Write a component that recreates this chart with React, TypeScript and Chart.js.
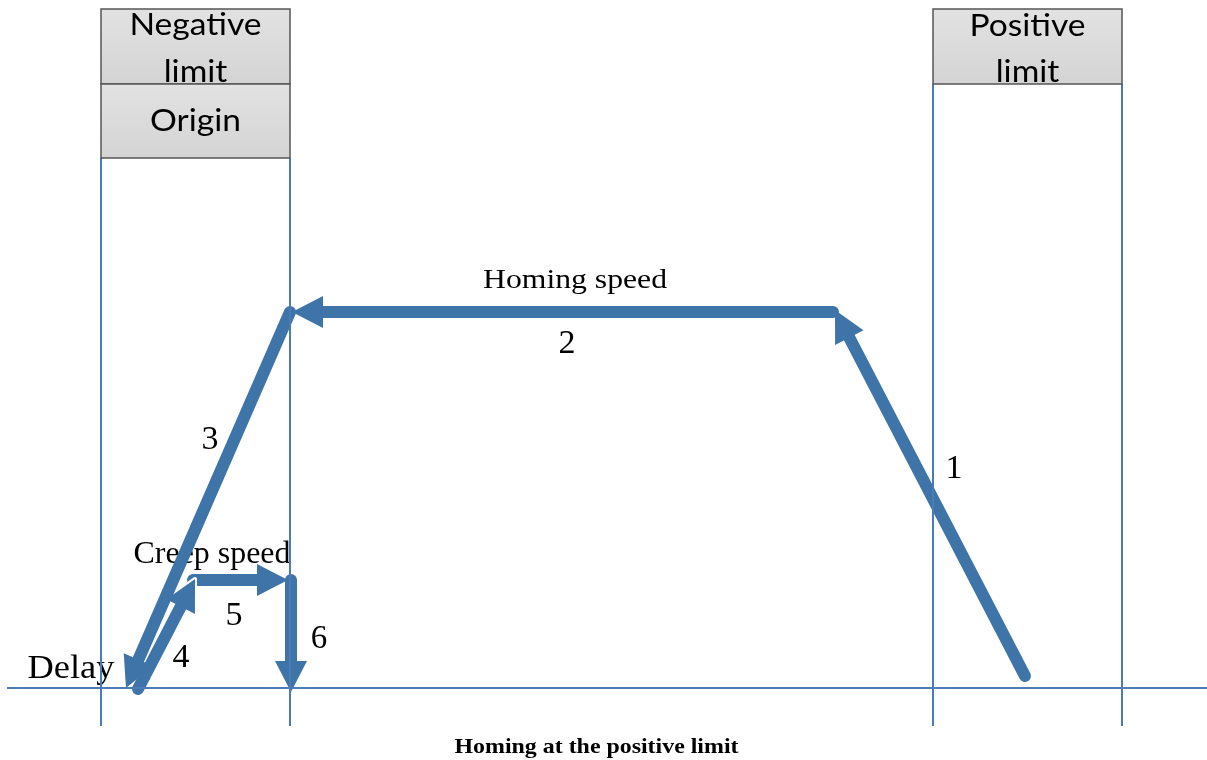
import { useEffect, useRef } from "react";
import { Chart, registerables } from "chart.js";

Chart.register(...registerables);

// ---- Diagram data (x = position, y = speed) ----
const positionRange = [0, 1207];
const speedRange = [-72, 688];

// limit-switch boxes
const switchNames = ["Negative\nlimit", "Origin", "Positive\nlimit"];
const switchLeft = [101, 101, 933];
const switchRight = [290, 290, 1122];
const switchTop = [679, 604, 679];
const switchBottom = [604, 530, 604];
const switchTextBase = [[653, 606], [557], [652, 606]];

// vertical switch edges
const edgeX = [101, 290, 933, 1122];
const edgeTop = [530, 530, 604, 604];
const edgeBottom = [-38, -38, -38, -38];

// position axis (zero speed)
const baselineX = [7, 1207];
const baselineV = [0, 0];

// homing steps (arrows)
const stepNames = ["1", "2", "3", "4", "5", "6"];
const stepStartX = [1025, 833, 290, 138, 193, 291];
const stepStartV = [12, 376, 376, -1, 108, 108];
const stepEndX = [835, 292, 126, 195, 288, 291];
const stepEndV = [378, 376, 0, 109, 108, -4];
const stepOutlined = [false, false, false, true, false, false];

// annotations
const labelTexts = ["Homing speed", "2", "3", "1", "Creep speed", "5", "4", "6", "Delay"];
const labelX = [575, 567, 210, 954, 212, 234, 181, 319, 71];
const labelV = [400, 335, 239, 210, 125, 63, 21, 40, 10];
const labelSize = [28, 34, 34, 34, 32, 34, 34, 33, 34];
const labelWidth = [184, 0, 0, 0, 157, 0, 0, 0, 87];

const titleText = "Homing at the positive limit";

const ARROW_COLOR = "#3f74a9";
const LINE_COLOR = "#4a7db8";

function drawText(
  ctx: CanvasRenderingContext2D,
  text: string,
  x: number,
  y: number,
  font: string,
  targetWidth = 0,
  sxFixed = 0
) {
  ctx.save();
  ctx.font = font;
  ctx.textAlign = "center";
  ctx.textBaseline = "alphabetic";
  let sx = 1;
  if (sxFixed) sx = sxFixed;
  else if (targetWidth) sx = targetWidth / ctx.measureText(text).width;
  ctx.translate(x, y);
  ctx.scale(sx, 1);
  ctx.fillStyle = "#000";
  ctx.fillText(text, 0, 0);
  ctx.restore();
}

const labelsPlugin = {
  id: "labels",
  beforeDatasetsDraw(chart: any) {
    const { ctx, scales } = chart;
    labelTexts.forEach((t, i) => {
      const x = scales.x.getPixelForValue(labelX[i]);
      const y = scales.y.getPixelForValue(labelV[i]);
      drawText(ctx, t, x, y, `${labelSize[i]}px "Liberation Serif"`, labelWidth[i]);
    });
  },
};

const arrowPlugin = {
  id: "arrows",
  afterDatasetDraw(chart: any, args: any) {
    const ds = chart.data.datasets[args.index];
    if (!ds.isArrow) return;
    const pts = args.meta.data;
    const ax = pts[0].x, ay = pts[0].y, bx = pts[1].x, by = pts[1].y;
    const dx = bx - ax, dy = by - ay;
    const len = Math.hypot(dx, dy);
    const ux = dx / len, uy = dy / len;
    const px = -uy, py = ux;
    const headLen = 31, headW = 32, shaft = 12;
    const ex = bx - ux * (headLen - 4), ey = by - uy * (headLen - 4);
    const ctx = chart.ctx;
    const path = (c: CanvasRenderingContext2D) => {
      c.beginPath();
      c.moveTo(bx, by);
      c.lineTo(bx - ux * headLen + px * headW / 2, by - uy * headLen + py * headW / 2);
      c.lineTo(bx - ux * headLen - px * headW / 2, by - uy * headLen - py * headW / 2);
      c.closePath();
    };
    ctx.save();
    if (ds.outlined) {
      ctx.strokeStyle = "#ffffff";
      ctx.lineCap = "round";
      ctx.lineJoin = "round";
      ctx.lineWidth = shaft + 4;
      ctx.beginPath();
      ctx.moveTo(ax, ay);
      ctx.lineTo(ex, ey);
      ctx.stroke();
      path(ctx);
      ctx.lineWidth = 4;
      ctx.stroke();
    }
    ctx.strokeStyle = ARROW_COLOR;
    ctx.fillStyle = ARROW_COLOR;
    ctx.lineCap = "round";
    ctx.lineWidth = shaft;
    ctx.beginPath();
    ctx.moveTo(ax, ay);
    ctx.lineTo(ex, ey);
    ctx.stroke();
    path(ctx);
    ctx.fill();
    ctx.restore();
  },
};

const BOX_FONT = `31px Lato`;

const boxesPlugin = {
  id: "boxes",
  afterDatasetsDraw(chart: any) {
    const { ctx, scales } = chart;
    ctx.save();
    ctx.font = BOX_FONT;
    const sx = 132 / ctx.measureText("Negative").width;
    switchNames.forEach((name, i) => {
      const l = scales.x.getPixelForValue(switchLeft[i]);
      const r = scales.x.getPixelForValue(switchRight[i]);
      const t = scales.y.getPixelForValue(switchTop[i]);
      const b = scales.y.getPixelForValue(switchBottom[i]);
      const g = ctx.createLinearGradient(0, t, 0, b);
      g.addColorStop(0, "#e2e2e2");
      g.addColorStop(1, "#d4d4d4");
      ctx.fillStyle = g;
      ctx.fillRect(l, t, r - l, b - t);
      ctx.strokeStyle = "#555555";
      ctx.lineWidth = 1.5;
      ctx.strokeRect(l, t, r - l, b - t);
      const lines = name.split("\n");
      lines.forEach((ln, j) => {
        const y = scales.y.getPixelForValue(switchTextBase[i][j]);
        drawText(ctx, ln, (l + r) / 2, y, BOX_FONT, 0, sx);
      });
    });
    ctx.restore();
  },
  afterDraw(chart: any) {
    const { ctx, scales } = chart;
    const cx = (scales.x.getPixelForValue(positionRange[0]) + scales.x.getPixelForValue(positionRange[1])) / 2 - 7;
    drawText(ctx, titleText, cx, scales.y.getPixelForValue(-65), `bold 22px "Liberation Serif"`, 284);
  },
};

export default function App() {
  const ref = useRef<HTMLCanvasElement>(null);
  useEffect(() => {
    document.body.style.margin = "0";
    const datasets: any[] = [];
    stepNames.forEach((n, i) => {
      datasets.push({
        label: "Step " + n,
        isArrow: true,
        outlined: stepOutlined[i],
        data: [
          { x: stepStartX[i], y: stepStartV[i] },
          { x: stepEndX[i], y: stepEndV[i] },
        ],
        showLine: false,
        pointRadius: 0,
        pointHoverRadius: 0,
        order: 10,
      });
    });
    edgeX.forEach((x, i) => {
      datasets.push({
        label: "edge" + i,
        data: [
          { x, y: edgeTop[i] },
          { x, y: edgeBottom[i] },
        ],
        showLine: true,
        borderColor: LINE_COLOR,
        borderWidth: 2,
        pointRadius: 0,
        order: 1,
      });
    });
    datasets.push({
      label: "axis",
      data: baselineX.map((x, i) => ({ x, y: baselineV[i] })),
      showLine: true,
      borderColor: LINE_COLOR,
      borderWidth: 2,
      pointRadius: 0,
      order: 1,
    });
    const chart = new Chart(ref.current!, {
      type: "scatter",
      data: { datasets },
      options: {
        animation: false,
        responsive: false,
        devicePixelRatio: 1,
        events: [],
        layout: { padding: 0 },
        plugins: { legend: { display: false }, tooltip: { enabled: false }, title: { display: false } },
        scales: {
          x: { type: "linear", min: positionRange[0], max: positionRange[1], display: false },
          y: { type: "linear", min: speedRange[0], max: speedRange[1], display: false },
        },
        elements: { line: { tension: 0 } },
      } as any,
      plugins: [labelsPlugin, arrowPlugin, boxesPlugin],
    });
    return () => chart.destroy();
  }, []);
  return (
    <div style={{ position: "fixed", left: 0, top: 0, width: 1207, height: 760, background: "#fff" }}>
      <canvas ref={ref} width={1207} height={760} style={{ display: "block" }} />
    </div>
  );
}
